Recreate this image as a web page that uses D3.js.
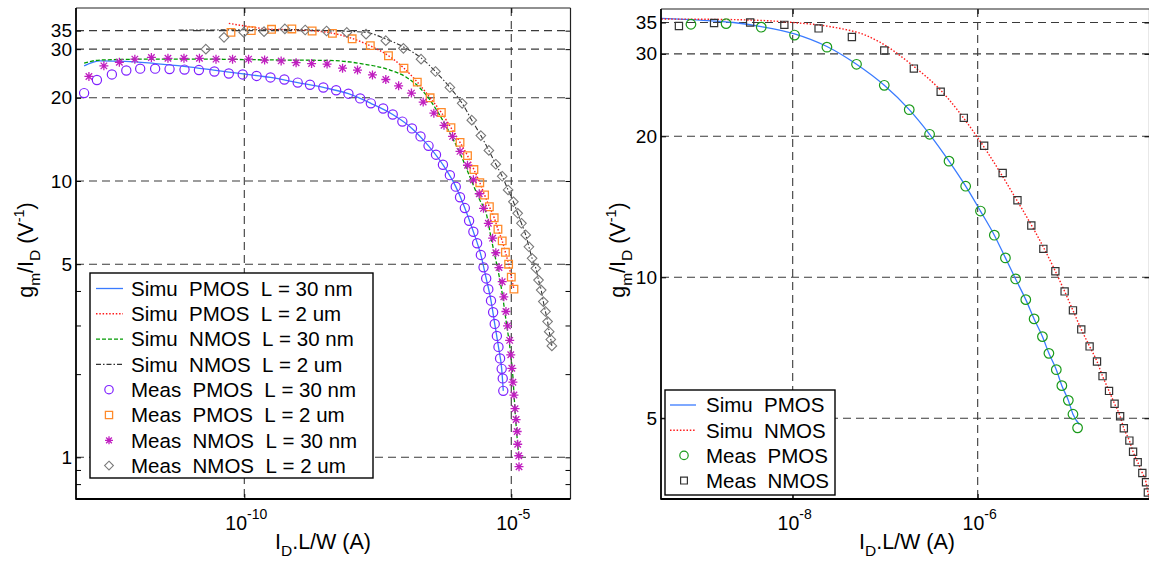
<!DOCTYPE html>
<html><head><meta charset="utf-8">
<script src="https://cdn.jsdelivr.net/npm/d3@7"></script>
<style>
body{margin:0;background:#fff}
svg{display:block;font-family:"Liberation Sans",Arial,sans-serif}
</style>
</head><body>
<svg id="c" width="1149" height="561"></svg>
<script>
// ---------------- LEFT PANEL DATA (x = log10(I_D.L/W), y = gm/ID) ----------------
const simuP30_logI = [-13.00,-12.70,-12.22,-11.67,-11.13,-10.57,-10.02,-9.51,-9.00,-8.52,-8.05,-7.63,-7.22,-6.86,-6.55,-6.28,-6.04,-5.87,-5.71,-5.57,-5.47,-5.38,-5.31,-5.24,-5.18,-5.15];
const simuP30_g    = [26.1,27.2,27.1,26.6,26.0,25.2,24.4,23.7,22.7,21.8,20.7,19.1,17.4,15.5,13.4,11.45,9.54,7.98,6.55,5.40,4.44,3.69,3.04,2.51,2.09,1.74];

const simuP2_logI = [-10.29,-9.87,-9.50,-9.11,-8.73,-8.36,-7.98,-7.65,-7.30,-7.01,-6.76,-6.52,-6.31,-6.13,-5.96,-5.82,-5.70,-5.59,-5.50,-5.41,-5.32,-5.25,-5.17,-5.11,-5.05,-5.00,-4.95];
const simuP2_g    = [37.2,36.1,35.4,35.3,35.0,34.3,32.8,30.9,28.4,25.6,22.8,20.0,17.7,15.6,13.8,12.35,11.0,9.86,8.90,8.07,7.36,6.69,6.07,5.52,5.00,4.49,4.06];

const simuN30_logI = [-13.00,-12.70,-11.77,-10.83,-9.33,-8.40,-7.77,-7.27,-6.96,-6.71,-6.52,-6.34,-6.15,-5.96,-5.78,-5.59,-5.47,-5.37,-5.27,-5.18,-5.10,-5.02,-4.97,-4.93,-4.86];
const simuN30_g    = [26.7,27.4,27.6,27.6,27.4,27.3,26.5,25.2,23.7,21.7,19.6,17.3,14.9,12.6,10.4,8.53,7.64,6.11,4.97,4.03,3.14,2.44,1.96,1.48,1.005];

const simuN2_logI = [-11.23,-10.85,-9.14,-8.40,-7.72,-7.36,-7.01,-6.69,-6.42,-6.15,-5.92,-5.74,-5.57,-5.42,-5.29,-5.17,-5.06,-4.96,-4.88,-4.81,-4.73,-4.67,-4.61,-4.54,-4.49,-4.44,-4.40,-4.36,-4.32,-4.29,-4.26,-4.24];
const simuN2_g    = [35.2,35.2,35.3,35.0,34.5,32.7,30.5,27.9,24.9,21.8,19.1,16.6,14.6,12.9,11.5,10.4,9.28,8.41,7.64,7.03,6.38,5.78,5.25,4.83,4.38,4.03,3.66,3.37,3.10,2.85,2.67,2.53];

const measP30_logI = [-13.00,-12.76,-12.48,-12.21,-11.95,-11.67,-11.40,-11.12,-10.85,-10.56,-10.29,-10.03,-9.77,-9.51,-9.25,-9.00,-8.77,-8.52,-8.28,-8.05,-7.83,-7.63,-7.40,-7.22,-7.04,-6.86,-6.70,-6.55,-6.41,-6.28,-6.15,-6.04,-5.96,-5.87,-5.79,-5.71,-5.64,-5.57,-5.52,-5.47,-5.43,-5.38,-5.34,-5.31,-5.27,-5.24,-5.21,-5.18,-5.16,-5.15];
const measP30_g    = [20.8,23.2,24.3,25.1,25.5,25.5,25.4,25.3,25.2,24.9,24.5,24.3,24.0,23.7,23.3,22.7,22.3,21.8,21.3,20.7,19.9,19.1,18.3,17.4,16.4,15.5,14.5,13.4,12.45,11.45,10.5,9.54,8.73,7.98,7.18,6.55,5.95,5.40,4.87,4.44,4.06,3.69,3.35,3.04,2.75,2.51,2.28,2.09,1.93,1.74];

const measP2_logI = [-10.25,-9.87,-9.49,-9.11,-8.73,-8.35,-7.98,-7.64,-7.30,-7.01,-6.76,-6.52,-6.31,-6.13,-5.96,-5.82,-5.70,-5.59,-5.50,-5.41,-5.32,-5.25,-5.17,-5.11,-5.05,-5.00,-4.95];
const measP2_g    = [34.5,35.0,35.4,35.5,34.9,34.2,32.7,30.9,28.4,25.6,22.8,20.0,17.7,15.6,13.8,12.35,11.0,9.86,8.90,8.07,7.36,6.69,6.07,5.52,5.00,4.49,4.06];

const measN30_logI = [-12.91,-12.63,-12.34,-12.05,-11.74,-11.43,-11.13,-10.84,-10.53,-10.22,-9.92,-9.62,-9.31,-9.03,-8.74,-8.45,-8.16,-7.88,-7.60,-7.35,-7.11,-6.87,-6.65,-6.45,-6.26,-6.10,-5.96,-5.82,-5.71,-5.60,-5.52,-5.43,-5.35,-5.29,-5.23,-5.17,-5.14,-5.10,-5.07,-5.03,-5.01,-4.99,-4.97,-4.95,-4.93,-4.91,-4.89,-4.88,-4.86,-4.855];
const measN30_g    = [23.9,26.1,26.9,27.6,28.0,27.8,27.8,27.8,27.6,27.6,27.6,27.4,27.2,26.8,26.6,26.5,25.6,25.2,24.2,23.3,22.1,20.8,19.3,17.6,15.9,14.5,12.8,11.4,10.1,8.99,7.96,7.03,6.21,5.50,4.86,4.32,3.81,3.37,2.99,2.65,2.35,2.10,1.87,1.68,1.50,1.37,1.24,1.115,1.013,0.925];

const measN2_logI = [-10.72,-10.38,-10.01,-9.63,-9.24,-8.86,-8.46,-8.08,-7.72,-7.35,-7.02,-6.69,-6.42,-6.15,-5.92,-5.74,-5.57,-5.42,-5.29,-5.17,-5.06,-4.96,-4.88,-4.81,-4.73,-4.67,-4.61,-4.54,-4.49,-4.44,-4.40,-4.36,-4.32,-4.29,-4.26,-4.24];
const measN2_g    = [30.0,33.1,34.5,34.7,35.5,35.2,34.9,34.5,34.0,32.2,30.2,27.6,24.9,21.8,19.1,16.6,14.6,12.9,11.5,10.4,9.28,8.41,7.64,7.03,6.38,5.78,5.25,4.83,4.38,4.03,3.66,3.37,3.10,2.85,2.67,2.53];

const leftLabels = ["Simu  PMOS  L = 30 nm","Simu  PMOS  L = 2 um","Simu  NMOS  L = 30 nm","Simu  NMOS  L = 2 um",
                    "Meas  PMOS  L = 30 nm","Meas  PMOS  L = 2 um","Meas  NMOS  L = 30 nm","Meas  NMOS  L = 2 um"];
const leftYTicks = [1,5,10,20,30,35];
const leftYMinor = [0.8,0.9,2,3,4];
const leftXTicks = [-10,-5];

// ---------------- RIGHT PANEL DATA ----------------
const rSimuP_logI = [-9.42,-9.00,-8.64,-8.34,-7.98,-7.63,-7.31,-7.01,-6.74,-6.52,-6.31,-6.13,-5.97,-5.82,-5.70,-5.59,-5.48,-5.39,-5.30,-5.23,-5.15,-5.09,-5.02,-4.97,-4.90];
const rSimuP_g    = [35.7,35.4,35.0,34.3,33.1,31.1,28.5,25.7,22.8,20.2,17.7,15.65,13.85,12.3,11.0,9.92,8.96,8.15,7.47,6.88,6.35,5.87,5.46,5.10,4.85];

const rSimuN_logI = [-9.42,-8.65,-8.00,-7.56,-7.20,-7.06,-6.70,-6.41,-6.01,-5.62,-5.29,-5.16,-5.06,-4.97,-4.88,-4.79,-4.71,-4.65,-4.58,-4.52,-4.46,-4.42,-4.36,-4.32,-4.27,-4.22,-4.18,-4.16,-4.10];
const rSimuN_g    = [35.6,35.5,35.0,34.2,32.8,31.8,28.3,25.2,20.0,15.1,11.6,10.3,9.33,8.50,7.74,7.12,6.61,6.15,5.72,5.37,5.05,4.76,4.48,4.24,4.03,3.82,3.65,3.47,3.2];

const rMeasP_logI = [-9.10,-8.72,-8.34,-7.98,-7.63,-7.31,-7.01,-6.74,-6.52,-6.31,-6.13,-5.97,-5.82,-5.70,-5.59,-5.48,-5.39,-5.30,-5.23,-5.15,-5.09,-5.02,-4.97,-4.92];
const rMeasP_g    = [34.7,34.8,34.2,32.9,31.0,28.5,25.7,22.8,20.2,17.7,15.65,13.85,12.3,11.0,9.92,8.96,8.15,7.47,6.88,6.35,5.87,5.46,5.10,4.77];

const rMeasN_logI = [-9.23,-8.85,-8.46,-8.09,-7.72,-7.36,-7.01,-6.69,-6.40,-6.15,-5.93,-5.73,-5.57,-5.42,-5.29,-5.16,-5.06,-4.97,-4.88,-4.79,-4.71,-4.65,-4.58,-4.52,-4.46,-4.42,-4.36,-4.32,-4.27,-4.22,-4.18,-4.16,-4.12];
const rMeasN_g    = [34.4,34.9,35.0,34.6,34.0,32.6,30.5,27.9,24.9,21.9,19.1,16.7,14.6,12.9,11.5,10.3,9.33,8.50,7.74,7.12,6.61,6.15,5.72,5.37,5.05,4.76,4.48,4.24,4.03,3.82,3.65,3.47,3.30];

const rightLabels = ["Simu  PMOS","Simu  NMOS","Meas  PMOS","Meas  NMOS"];
const rightYTicks = [5,10,20,30,35];
const rightXTicks = [-8,-6];

// ---------------- DRAWING ----------------
const svg = d3.select("#c");
const TICK_FONT = 19;
const LEG_FONT = 20.5;
const TITLE_FONT = 21.5;

const zip = (xs, ys) => xs.map((e, i) => [Math.pow(10, e), ys[i]]);
const nb = s => s.replace(/ /g, "\u00a0");

const markerPaths = {
  asterisk: h => { const d = h * 0.72; return `M${-h},0L${h},0M0,${-h}L0,${h}M${-d},${-d}L${d},${d}M${-d},${d}L${d},${-d}`; },
  diamond: h => `M0,${-h}L${h},0L0,${h}L${-h},0Z`,
  square: h => `M${-h},${-h}H${h}V${h}H${-h}Z`
};

function drawMarker(g, type, x, y, size, color, sw) {
  if (type === "circle") {
    g.append("circle").attr("cx", x).attr("cy", y).attr("r", size)
      .attr("fill", "none").attr("stroke", color).attr("stroke-width", sw);
  } else {
    g.append("path").attr("transform", `translate(${x},${y})`).attr("d", markerPaths[type](size))
      .attr("fill", "none").attr("stroke", color).attr("stroke-width", sw);
  }
}

function supText(g, x, y, exp) {
  const t = g.append("text").attr("x", x).attr("y", y).attr("text-anchor", "middle")
    .attr("font-size", TICK_FONT + 0.5).attr("fill", "#000");
  t.append("tspan").text("10");
  t.append("tspan").attr("dy", -11).attr("font-size", 14).text(String(exp));
}

function panel(cfg) {
  const {x0, x1, y0, y1} = cfg;
  const xs = d3.scaleLog().domain([Math.pow(10, cfg.xExp[0]), Math.pow(10, cfg.xExp[1])]).range([x0, x1]);
  const ys = d3.scaleLog().domain(cfg.yDom).range([y1, y0]);
  const g = svg.append("g");
  const clipId = "clip" + cfg.id;
  svg.append("defs").append("clipPath").attr("id", clipId)
    .append("rect").attr("x", x0).attr("y", y0).attr("width", x1 - x0).attr("height", y1 - y0);

  // grid
  const grid = g.append("g").attr("stroke", "#3a3a3a").attr("stroke-width", 1.1).attr("stroke-dasharray", "8,5");
  cfg.yTicks.forEach(v => grid.append("line").attr("x1", x0).attr("x2", x1)
    .attr("y1", ys(v)).attr("y2", ys(v)));
  cfg.xTicks.forEach(e => grid.append("line").attr("y1", y0).attr("y2", y1)
    .attr("x1", xs(Math.pow(10, e))).attr("x2", xs(Math.pow(10, e))));

  // y axis (left) with labels
  const yAxis = d3.axisLeft(ys).tickValues(cfg.yTicks.concat(cfg.yMinor || []))
    .tickSize(-5).tickSizeOuter(0)
    .tickFormat(d => cfg.yTicks.includes(d) ? String(d) : "");
  const ya = g.append("g").attr("transform", `translate(${x0},0)`).call(yAxis);
  ya.select(".domain").remove();
  ya.selectAll("line").attr("stroke", "#000");
  ya.selectAll("text").attr("font-size", TICK_FONT).attr("font-family", "Liberation Sans, Arial, sans-serif")
    .attr("fill", "#000").attr("x", -4);

  // right ticks
  const yR = d3.axisRight(ys).tickValues(cfg.yTicks.concat(cfg.yMinor || [])).tickSize(-5).tickFormat("");
  const yr = g.append("g").attr("transform", `translate(${cfg.xR},0)`).call(yR);
  yr.select(".domain").remove();
  yr.selectAll("line").attr("stroke", "#000");

  // x axis ticks (bottom and top) and labels
  const xt = cfg.xTicks.map(e => Math.pow(10, e));
  const xb = g.append("g").attr("transform", `translate(0,${y1})`)
    .call(d3.axisBottom(xs).tickValues(xt).tickSize(-5).tickFormat(""));
  xb.select(".domain").remove();
  xb.selectAll("line").attr("stroke", "#000");
  const xtop = g.append("g").attr("transform", `translate(0,${y0})`)
    .call(d3.axisTop(xs).tickValues(xt).tickSize(-5).tickFormat(""));
  xtop.select(".domain").remove();
  xtop.selectAll("line").attr("stroke", "#000");
  cfg.xTicks.forEach(e => supText(g, xs(Math.pow(10, e)) + 2, 530, e));

  // data
  const data = g.append("g").attr("clip-path", `url(#${clipId})`);
  const line = d3.line().x(d => xs(d[0])).y(d => ys(d[1])).curve(d3.curveMonotoneX);
  cfg.lines.forEach(s => {
    data.append("path").datum(zip(s.x, s.y)).attr("d", line)
      .attr("fill", "none").attr("stroke", s.color).attr("stroke-width", s.w)
      .attr("stroke-dasharray", s.dash || null);
  });
  cfg.marks.forEach(s => {
    zip(s.x, s.y).forEach(d => drawMarker(data, s.type, xs(d[0]), ys(d[1]), s.size, s.color, s.sw));
  });

  // frame
  g.append("line").attr("x1", x0).attr("x2", cfg.xR).attr("y1", y0).attr("y2", y0)
    .attr("stroke", "#222").attr("stroke-width", 1.2);
  g.append("line").attr("x1", cfg.xR).attr("x2", cfg.xR).attr("y1", y0).attr("y2", y1)
    .attr("stroke", "#222").attr("stroke-width", 1.2);
  g.append("line").attr("x1", x0).attr("x2", x0).attr("y1", y0).attr("y2", y1 + 0.8)
    .attr("stroke", "#000").attr("stroke-width", 1.8);
  g.append("line").attr("x1", x0).attr("x2", cfg.xR).attr("y1", y1).attr("y2", y1)
    .attr("stroke", "#000").attr("stroke-width", 1.8);

  // axis titles
  const xl = g.append("text").attr("x", cfg.xLabelX).attr("y", 549).attr("text-anchor", "middle")
    .attr("font-size", TITLE_FONT).attr("fill", "#000");
  xl.append("tspan").text("I");
  xl.append("tspan").attr("dy", 7).attr("font-size", 15.5).text("D");
  xl.append("tspan").attr("dy", -7).text(".L/W (A)");

  const yl = g.append("text").attr("transform", `translate(${cfg.yLabelX},${cfg.yLabelY}) rotate(-90)`)
    .attr("text-anchor", "middle").attr("font-size", TITLE_FONT).attr("fill", "#000");
  yl.append("tspan").text("g");
  yl.append("tspan").attr("dy", 7).attr("font-size", 15.5).text("m");
  yl.append("tspan").attr("dy", -7).text("/I");
  yl.append("tspan").attr("dy", 7).attr("font-size", 15.5).text("D");
  yl.append("tspan").attr("dy", -7).text(nb(" (V"));
  yl.append("tspan").attr("dy", -9).attr("font-size", 14.5).text("-1");
  yl.append("tspan").attr("dy", 9).text(")");

  // legend
  const L = cfg.legend;
  const lg = g.append("g");
  lg.append("rect").attr("x", L.x).attr("y", L.y).attr("width", L.w).attr("height", L.h)
    .attr("fill", "#fff").attr("stroke", "#000").attr("stroke-width", 1.4);
  const entries = cfg.lines.concat(cfg.marks);
  entries.forEach((s, i) => {
    const ry = L.row0 + i * L.dy;
    if (s.type) {
      drawMarker(lg, s.type, L.mx, ry, s.legSize || s.size * 0.8, s.color, s.sw);
    } else {
      lg.append("line").attr("x1", L.lx0).attr("x2", L.lx1).attr("y1", ry).attr("y2", ry)
        .attr("stroke", s.color).attr("stroke-width", s.w).attr("stroke-dasharray", s.dash || null);
    }
    lg.append("text").attr("x", L.tx).attr("y", ry).attr("dy", "0.36em")
      .attr("font-size", LEG_FONT).attr("fill", "#000").text(nb(cfg.labels[i]));
  });
}

panel({
  id: "L", x0: 76, x1: 570.5, xR: 570.5, y0: 8, y1: 499,
  xExp: [-13.152, -3.891], yDom: [0.7066, 42.27],
  yTicks: leftYTicks, yMinor: leftYMinor, xTicks: leftXTicks,
  xLabelX: 323, yLabelX: 33, yLabelY: 250,
  lines: [
    {x: simuP30_logI, y: simuP30_g, color: "#3a7bff", w: 1.3},
    {x: simuP2_logI, y: simuP2_g, color: "#ff1a1a", w: 1.4, dash: "1.5,1.8"},
    {x: simuN30_logI, y: simuN30_g, color: "#009a00", w: 1.3, dash: "4,2"},
    {x: simuN2_logI, y: simuN2_g, color: "#333", w: 1.1, dash: "5,2,1.5,2"}
  ],
  marks: [
    {x: measP30_logI, y: measP30_g, type: "circle", size: 4.6, color: "#7f22ff", sw: 1.2, legSize: 4.2},
    {x: measP2_logI, y: measP2_g, type: "square", size: 3.8, color: "#ff8a2a", sw: 1.3, legSize: 3.6},
    {x: measN30_logI, y: measN30_g, type: "asterisk", size: 4.5, color: "#c01ec0", sw: 1.3, legSize: 4},
    {x: measN2_logI, y: measN2_g, type: "diamond", size: 4.8, color: "#7a7a7a", sw: 1.1, legSize: 4.4}
  ],
  labels: leftLabels,
  legend: {x: 90, y: 273, w: 283, h: 205, row0: 288.5, dy: 25.3, lx0: 96, lx1: 123, mx: 109, tx: 131}
});

panel({
  id: "R", x0: 661, x1: 1150, xR: 1149.5, y0: 9, y1: 499,
  xExp: [-9.4238, -4.137], yDom: [3.362, 37.4],
  yTicks: rightYTicks, yMinor: [], xTicks: rightXTicks,
  xLabelX: 907, yLabelX: 625, yLabelY: 250,
  lines: [
    {x: rSimuP_logI, y: rSimuP_g, color: "#3a7bff", w: 1.3},
    {x: rSimuN_logI, y: rSimuN_g, color: "#ff1a1a", w: 1.4, dash: "1.5,1.8"}
  ],
  marks: [
    {x: rMeasP_logI, y: rMeasP_g, type: "circle", size: 4.8, color: "#1a9a1a", sw: 1.2, legSize: 4.2},
    {x: rMeasN_logI, y: rMeasN_g, type: "square", size: 3.6, color: "#333", sw: 1.2, legSize: 3.4}
  ],
  labels: rightLabels,
  legend: {x: 665, y: 390, w: 170, h: 105, row0: 405, dy: 25.2, lx0: 670, lx1: 696, mx: 684, tx: 706}
});
</script>
</body></html>
